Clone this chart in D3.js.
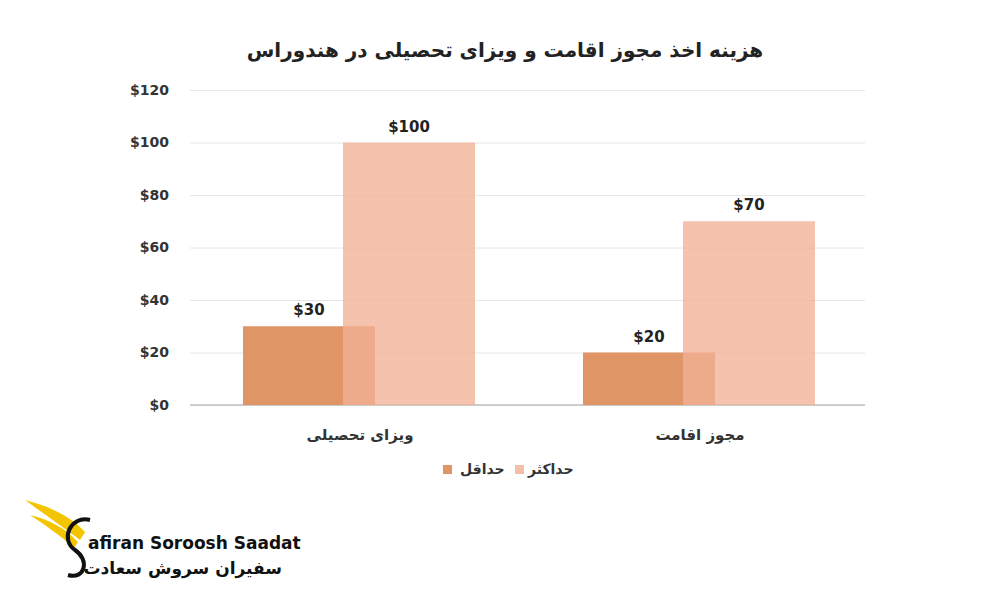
<!DOCTYPE html>
<html><head><meta charset="utf-8">
<script src="https://cdn.jsdelivr.net/npm/d3@7"></script>
<style>body{margin:0;background:#fff}</style></head>
<body><svg id="c" width="1000" height="600"></svg>
<script>
const categories = ["ویزای تحصیلی", "مجوز اقامت"];
const minValues = [30, 20];
const maxValues = [100, 70];
const seriesNames = ["حداقل", "حداکثر"];
const yTicks = [0, 20, 40, 60, 80, 100, 120];
const title = "هزینه اخذ مجوز اقامت و ویزای تحصیلی در هندوراس";

const svg = d3.select("#c");
const font = "'DejaVu Sans', 'Noto Sans', sans-serif";
const minColor = "#DF9565", maxColor = "#F2B197";
const y = d3.scaleLinear().domain([0, 120]).range([405, 90]);
const x = d3.scaleBand().domain(categories).range([190, 870]);

svg.append("text").attr("x", 505).attr("y", 57).attr("text-anchor", "middle")
  .attr("font-family", font).attr("font-weight", "bold").attr("font-size", 20)
  .attr("fill", "#222").attr("direction", "rtl").text(title);

const gy = svg.append("g").attr("transform", "translate(190,0)")
  .call(d3.axisLeft(y).tickValues(yTicks).tickSize(-675).tickFormat(d => "$" + d));
gy.select(".domain").remove();
gy.selectAll(".tick line").attr("stroke", "#e6e6e6");
gy.selectAll(".tick text").attr("x", -21).attr("text-anchor", "end")
  .attr("font-family", font).attr("font-weight", "bold").attr("font-size", 14).attr("fill", "#333");
svg.append("line").attr("x1", 190).attr("x2", 865).attr("y1", y(0)).attr("y2", y(0))
  .attr("stroke", "#bfbfbf").attr("stroke-width", 1.5);

const bw = 132;
categories.forEach((c, i) => {
  const cx = x(c) + x.bandwidth() / 2;
  const x1 = cx - 117, x2 = cx - 17;
  svg.append("rect").attr("x", x1).attr("y", y(minValues[i])).attr("width", bw)
    .attr("height", y(0) - y(minValues[i])).attr("fill", minColor);
  svg.append("rect").attr("x", x2).attr("y", y(maxValues[i])).attr("width", bw)
    .attr("height", y(0) - y(maxValues[i])).attr("fill", maxColor).attr("opacity", 0.78);
  [[x1, minValues[i]], [x2, maxValues[i]]].forEach(([bx, v]) => {
    svg.append("text").attr("x", bx + bw / 2).attr("y", y(v) - 11).attr("text-anchor", "middle")
      .attr("font-family", font).attr("font-weight", "bold").attr("font-size", 15).attr("fill", "#222")
      .text("$" + v);
  });
  svg.append("text").attr("x", cx).attr("y", 440).attr("text-anchor", "middle")
    .attr("font-family", font).attr("font-weight", "bold").attr("font-size", 15).attr("fill", "#333")
    .attr("direction", "rtl").text(c);
});

// legend
[[443, minColor, seriesNames[0], 460], [515, "#F4BFA8", seriesNames[1], 528]].forEach(([sx, col, t, tx]) => {
  svg.append("rect").attr("x", sx).attr("y", 465).attr("width", 9).attr("height", 9).attr("fill", col);
  svg.append("text").attr("x", tx).attr("y", 474).attr("font-family", font).attr("font-weight", "bold")
    .attr("font-size", 14).attr("fill", "#333").text(t);
});

// logo
const lg = svg.append("g");
lg.append("path").attr("d", "M25,500 C45,505 70,515 85,532 L80,540 C65,528 45,515 25,500 Z").attr("fill", "#F2C500");
lg.append("path").attr("d", "M30,515 C50,520 65,528 78,542 L74,548 C60,535 45,525 30,515 Z").attr("fill", "#F2C500");
lg.append("path").attr("d", "M90,520 C70,515 60,540 75,550 C90,560 85,580 68,575").attr("fill", "none").attr("stroke", "#111").attr("stroke-width", 4);
lg.append("text").attr("x", 88).attr("y", 549).attr("font-family", "'DejaVu Sans', sans-serif")
  .attr("font-weight", "bold").attr("font-size", 17).attr("fill", "#111").text("afiran Soroosh Saadat");
lg.append("text").attr("x", 282).attr("y", 574).attr("text-anchor", "start").attr("direction", "rtl")
  .attr("font-family", "'DejaVu Sans', sans-serif").attr("font-weight", "bold").attr("font-size", 17)
  .attr("fill", "#111").text("سفیران سروش سعادت");
</script></body></html>
